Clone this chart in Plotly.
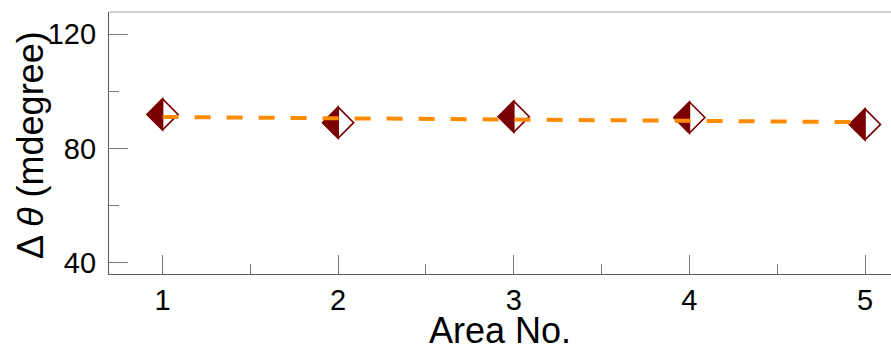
import plotly.graph_objects as go

# Data
area_no = [1, 2, 3, 4, 5]
delta_theta = [91.9, 89.0, 91.1, 90.8, 88.4]
fit_line = [91.0, 90.6, 90.1, 89.7, 89.2]
x_ticks = [1, 2, 3, 4, 5]
y_ticks = [40, 80, 120]

DARK_RED = "#7a0000"
ORANGE = "#ff8c00"
FONT = "Liberation Sans, Arial, sans-serif"

fig = go.Figure()

# Half-filled diamond markers drawn as pixel-sized shapes anchored at data points
H = 15.5
full_diamond = f"M 0,{H} L {H},0 L 0,{-H} L {-H},0 Z"
left_half = f"M 0,{H} L {-H},0 L 0,{-H} Z"
shapes = []
for xv, yv in zip(area_no, delta_theta):
    shapes.append(dict(type="path", xref="x", yref="y", xsizemode="pixel", ysizemode="pixel",
                       xanchor=xv, yanchor=yv, path=full_diamond, fillcolor="white",
                       line=dict(color=DARK_RED, width=1.6), layer="below"))
    shapes.append(dict(type="path", xref="x", yref="y", xsizemode="pixel", ysizemode="pixel",
                       xanchor=xv, yanchor=yv, path=left_half, fillcolor=DARK_RED,
                       line=dict(color=DARK_RED, width=1.6), layer="below"))
# lighter top frame line
shapes.append(dict(type="line", xref="paper", yref="paper", x0=0, x1=1, y0=1, y1=1,
                   line=dict(color="#a8a8a8", width=1.2)))

fig.add_trace(go.Scatter(x=area_no, y=fit_line, mode="lines",
                         line=dict(color=ORANGE, width=4, dash="16px,16px"),
                         showlegend=False, hoverinfo="skip"))

annotations = [
    dict(text="Area No.", xref="paper", yref="paper", x=0.5, y=0, xanchor="center",
         yanchor="top", yshift=-34, showarrow=False, font=dict(size=36, family=FONT, color="black")),
    dict(text="Δ <i>θ</i> (mdegree)", xref="paper", yref="paper", x=0, y=0.5, xanchor="center",
         yanchor="middle", xshift=-79, yshift=-2, textangle=-90, showarrow=False,
         font=dict(size=36, family=FONT, color="black")),
]

fig.update_layout(
    width=891, height=345,
    margin=dict(l=109, r=0, t=12, b=71),
    paper_bgcolor="white", plot_bgcolor="white",
    font=dict(family=FONT, color="black"),
    shapes=shapes,
    annotations=annotations,
    showlegend=False,
)

fig.update_xaxes(
    range=[0.695, 5.148], tickvals=x_ticks, ticktext=[str(v) for v in x_ticks],
    showgrid=False, zeroline=False, automargin=False,
    showline=True, linecolor="#5a5a5a", linewidth=1.2,
    ticks="inside", ticklen=19, tickwidth=1.2, tickcolor="#7a7a7a",
    tickfont=dict(size=29), ticklabelstandoff=0,
    minor=dict(ticks="inside", ticklen=10, tickwidth=1.2, tickcolor="#7a7a7a", dtick=0.5, tick0=0.5),
)
fig.update_yaxes(
    range=[36.1, 127.7], tickvals=y_ticks, ticktext=[str(v) for v in y_ticks],
    showgrid=False, zeroline=False, automargin=False,
    showline=True, linecolor="#5a5a5a", linewidth=1.2,
    ticks="inside", ticklen=19, tickwidth=1.2, tickcolor="#7a7a7a",
    tickfont=dict(size=29), ticklabelstandoff=6,
    minor=dict(ticks="inside", ticklen=10, tickwidth=1.2, tickcolor="#7a7a7a", dtick=20, tick0=0),
)

fig.write_html("out.html")
